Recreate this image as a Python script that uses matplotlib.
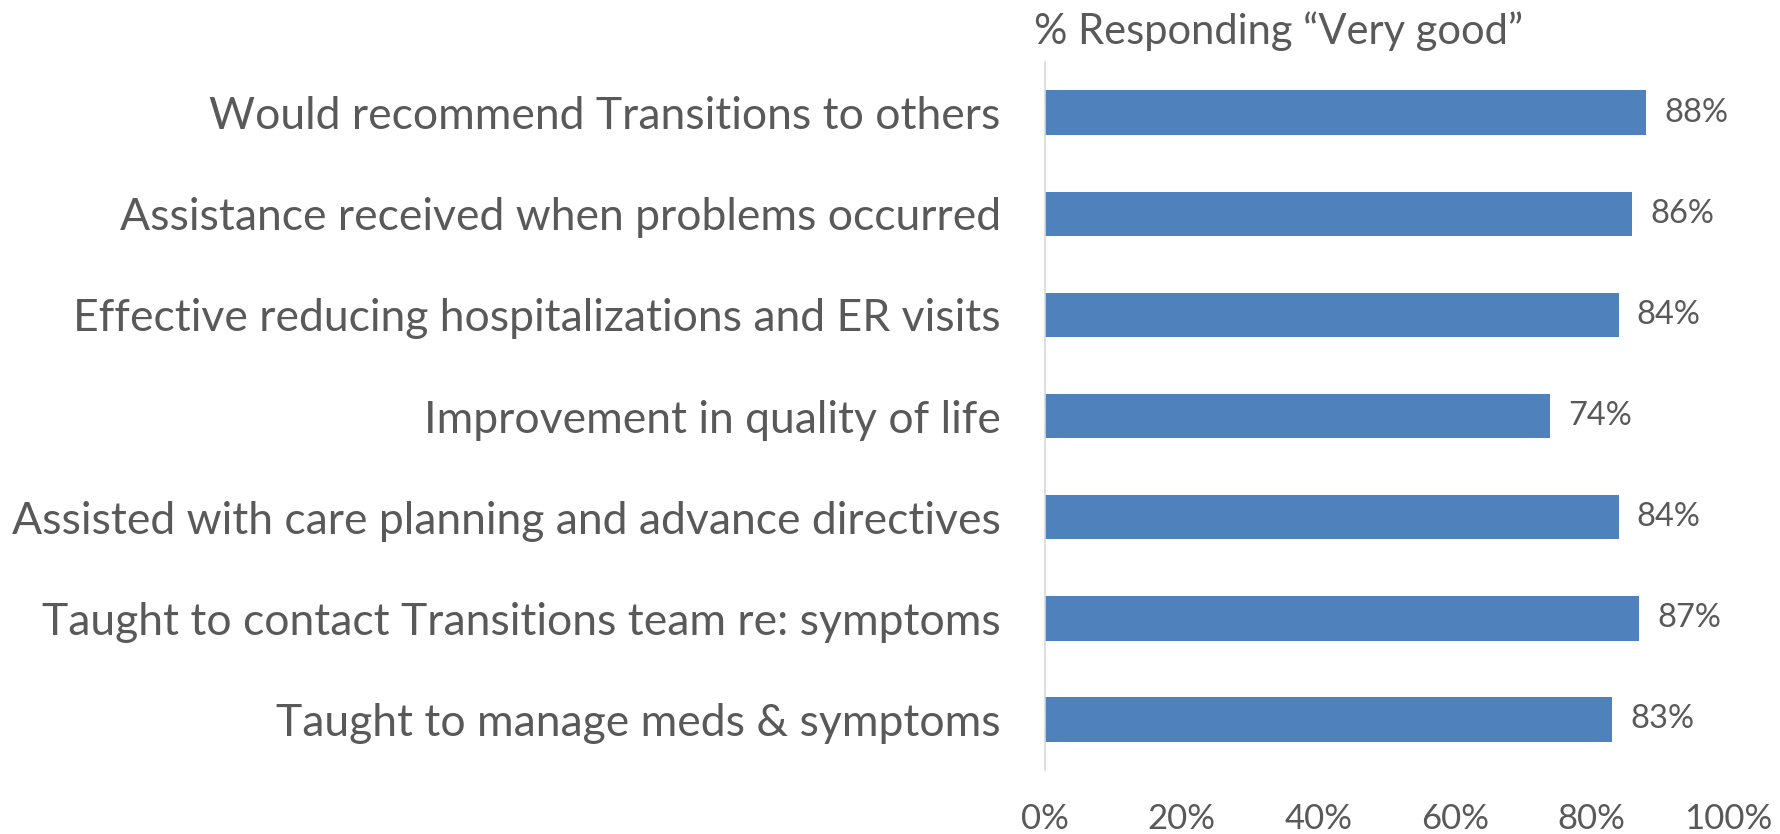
import matplotlib.pyplot as plt
import numpy as np

plt.rcParams['font.family'] = ['Lato', 'DejaVu Sans']

categories = ["Would recommend Transitions to others",
              "Assistance received when problems occurred",
              "Effective reducing hospitalizations and ER visits",
              "Improvement in quality of life",
              "Assisted with care planning and advance directives",
              "Taught to contact Transitions team re: symptoms",
              "Taught to manage meds & symptoms"]
values = [88, 86, 84, 74, 84, 87, 83]
xticks = [0, 20, 40, 60, 80, 100]
xtick_labels = ["0%", "20%", "40%", "60%", "80%", "100%"]

text_col = '#595959'
bar_col = '#4F81BD'

fig = plt.figure(figsize=(17.81, 8.34), dpi=100)
ax = fig.add_axes([0.5868, 0.0767, 0.3834, 0.8489])

y = np.arange(len(categories))
ax.barh(y, values, height=0.44, color=bar_col)
ax.set_ylim(len(categories) - 0.5, -0.5)
ax.set_xlim(0, 100)

ax.set_yticks(y)
ax.set_yticklabels(categories, fontsize=32, color=text_col)
ax.set_xticks(xticks)
ax.set_xticklabels(xtick_labels, fontsize=25, color=text_col)
ax.tick_params(axis='y', length=0, pad=32)
ax.tick_params(axis='x', length=0, pad=24)

for s in ['top', 'right', 'bottom']:
    ax.spines[s].set_visible(False)
ax.spines['left'].set_color('#D9D9D9')
ax.spines['left'].set_linewidth(1.2)

for yi, v in zip(y, values):
    ax.annotate(f"{v}%", (v, yi), xytext=(13, 0), textcoords='offset points',
                va='center', ha='left', fontsize=23.5, color=text_col)

fig.text(1034 / 1781, 1 - 31 / 834, "% Responding \u201cVery good\u201d",
         fontsize=30, color=text_col, ha='left', va='center')

fig.savefig('out.png', dpi=100)
